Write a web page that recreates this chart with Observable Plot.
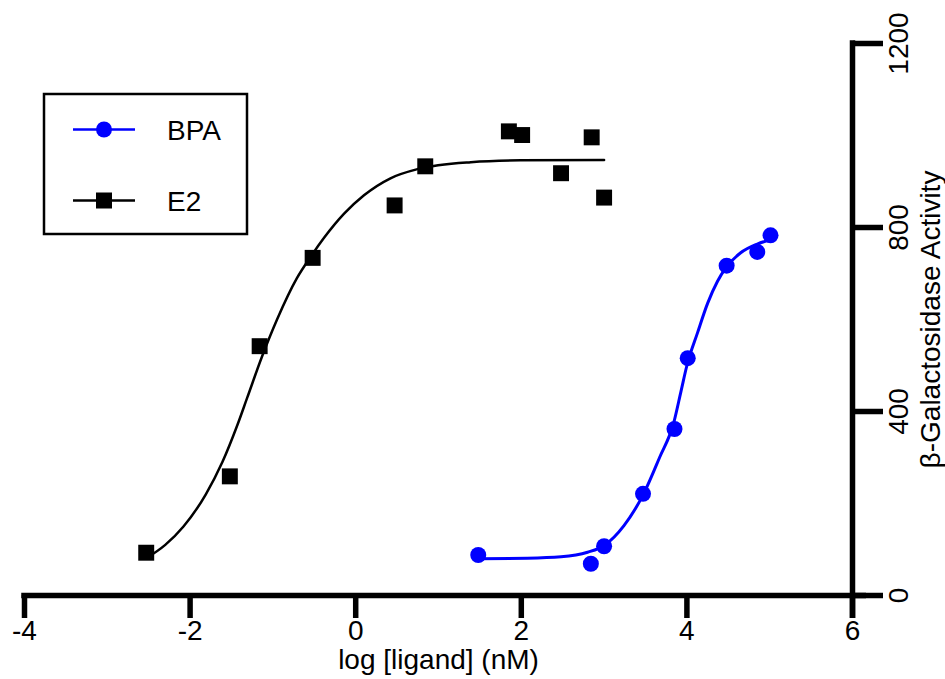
<!DOCTYPE html>
<html>
<head>
<meta charset="utf-8">
<script src="https://cdn.jsdelivr.net/npm/d3@7"></script>
<script src="https://cdn.jsdelivr.net/npm/@observablehq/plot@0.6"></script>
<style>
  html, body { margin: 0; padding: 0; background: #fff; }
  #chart svg { display: block; }
</style>
</head>
<body>
<div id="chart"></div>
<script>
// ---- Data ----
const seriesNames = ["BPA", "E2"];
const seriesColors = ["#0000ff", "#000000"];

// E2 measured points (log [ligand] nM, beta-galactosidase activity)
const e2LogX     = [-2.53, -1.52, -1.16, -0.52, 0.47, 0.84, 1.85, 2.01, 2.48, 2.85, 3.0];
const e2Activity = [93, 259, 542, 734, 848, 933, 1009, 1001, 918, 996, 865];

// BPA measured points
const bpaLogX     = [1.48, 2.84, 3.0, 3.47, 3.85, 4.01, 4.48, 4.85, 5.01];
const bpaActivity = [88, 69, 107, 221, 362, 516, 717, 747, 783];

// Fitted curves
const e2FitX = [-2.52, -2.30, -2.08, -1.81, -1.61, -1.43, -1.31, -1.13, -0.95, -0.71, -0.53, -0.38, -0.14, 0.10, 0.42, 0.75, 1.39, 1.99, 3.0];
const e2FitY = [82, 110, 150, 220, 290, 370, 430, 520, 600, 690, 740, 778, 830, 870, 907, 927, 942, 946, 947];

const bpaFitX = [1.48, 2.07, 2.48, 2.80, 3.01, 3.24, 3.48, 3.67, 3.84, 3.93, 4.00, 4.13, 4.25, 4.37, 4.47, 4.65, 4.85, 5.02];
const bpaFitY = [80, 81, 84, 94, 110, 152, 222, 300, 375, 445, 500, 572, 635, 683, 712, 745, 764, 774];

const xTicks = [-4, -2, 0, 2, 4, 6];
const yTicks = [0, 400, 800, 1200];
const xLabel = "log [ligand] (nM)";
const yLabel = "β-Galactosidase Activity";

// ---- Build rows ----
const rows = (xs, ys) => xs.map((x, i) => ({x, y: ys[i]}));
const e2Pts = rows(e2LogX, e2Activity);
const bpaPts = rows(bpaLogX, bpaActivity);
const e2Fit = rows(e2FitX, e2FitY);
const bpaFit = rows(bpaFitX, bpaFitY);

const axisW = 5.5;

const chart = Plot.plot({
  width: 945,
  height: 679,
  marginLeft: 24,
  marginRight: 93,
  marginTop: 43,
  marginBottom: 84,
  style: {
    fontFamily: "'Liberation Sans', Arial, Helvetica, sans-serif",
    fontSize: "28px",
    color: "#000",
    background: "#fff"
  },
  x: {domain: [-4, 6]},
  y: {domain: [0, 1200]},
  marks: [
    // axis lines
    Plot.ruleY([0], {stroke: "#000", strokeWidth: axisW, insetLeft: -2.75, insetRight: -14}),
    Plot.ruleX([6], {stroke: "#000", strokeWidth: axisW, insetTop: -2.75, insetBottom: -23}),
    // x axis ticks and labels
    Plot.axisX(xTicks, {
      anchor: "bottom",
      tickSize: 23,
      tickPadding: 2,
      strokeWidth: axisW,
      tickFormat: d => String(d),
      label: null
    }),
    // y axis ticks (labels drawn rotated below)
    Plot.axisY(yTicks, {
      anchor: "right",
      tickSize: 30,
      strokeWidth: axisW,
      tickFormat: () => "",
      label: null
    }),
    Plot.text(yTicks, {
      y: d => d,
      text: d => String(d),
      frameAnchor: "right",
      rotate: -90,
      dx: 47,
      textAnchor: "middle",
      lineAnchor: "middle",
      fill: "#000"
    }),
    // axis titles
    Plot.text([yLabel], {
      text: d => d,
      frameAnchor: "right",
      rotate: -90,
      dx: 79,
      textAnchor: "middle",
      lineAnchor: "middle",
      fill: "#000"
    }),
    Plot.text([xLabel], {
      text: d => d,
      frameAnchor: "bottom",
      dy: 65,
      textAnchor: "middle",
      lineAnchor: "middle",
      fill: "#000"
    }),
    // fitted curves
    Plot.line(e2Fit, {x: "x", y: "y", stroke: seriesColors[1], strokeWidth: 2.5, curve: "monotone-x"}),
    Plot.line(bpaFit, {x: "x", y: "y", stroke: seriesColors[0], strokeWidth: 3, curve: "monotone-x"}),
    // points
    Plot.dot(e2Pts, {x: "x", y: "y", symbol: "square", r: 9, fill: seriesColors[1], stroke: "none"}),
    Plot.dot(bpaPts, {x: "x", y: "y", symbol: "circle", r: 8, fill: seriesColors[0], stroke: "none"})
  ]
});

document.getElementById("chart").appendChild(chart);

// ---- Legend (inside the plot, top-left) ----
const svg = d3.select(chart);
const lg = svg.append("g").attr("class", "legend").attr("text-anchor", "start");
lg.append("rect")
  .attr("x", 44).attr("y", 94)
  .attr("width", 203).attr("height", 140)
  .attr("fill", "#fff").attr("stroke", "#000").attr("stroke-width", 2.5);

const legendRows = [0, 1].map(i => ({name: seriesNames[i], color: seriesColors[i], cy: i === 0 ? 129.5 : 200.5}));
legendRows.forEach((r, i) => {
  lg.append("line")
    .attr("x1", 73).attr("x2", 135)
    .attr("y1", r.cy).attr("y2", r.cy)
    .attr("stroke", r.color).attr("stroke-width", 2.5);
  if (i === 0) {
    lg.append("circle").attr("cx", 104).attr("cy", r.cy).attr("r", 8).attr("fill", r.color);
  } else {
    lg.append("rect").attr("x", 96).attr("y", r.cy - 8).attr("width", 16).attr("height", 16).attr("fill", r.color);
  }
  lg.append("text")
    .attr("x", 167).attr("y", r.cy)
    .attr("dy", "0.36em")
    .attr("text-anchor", "start")
    .attr("fill", "#000")
    .style("font-size", "28px")
    .text(r.name);
});
</script>
</body>
</html>
